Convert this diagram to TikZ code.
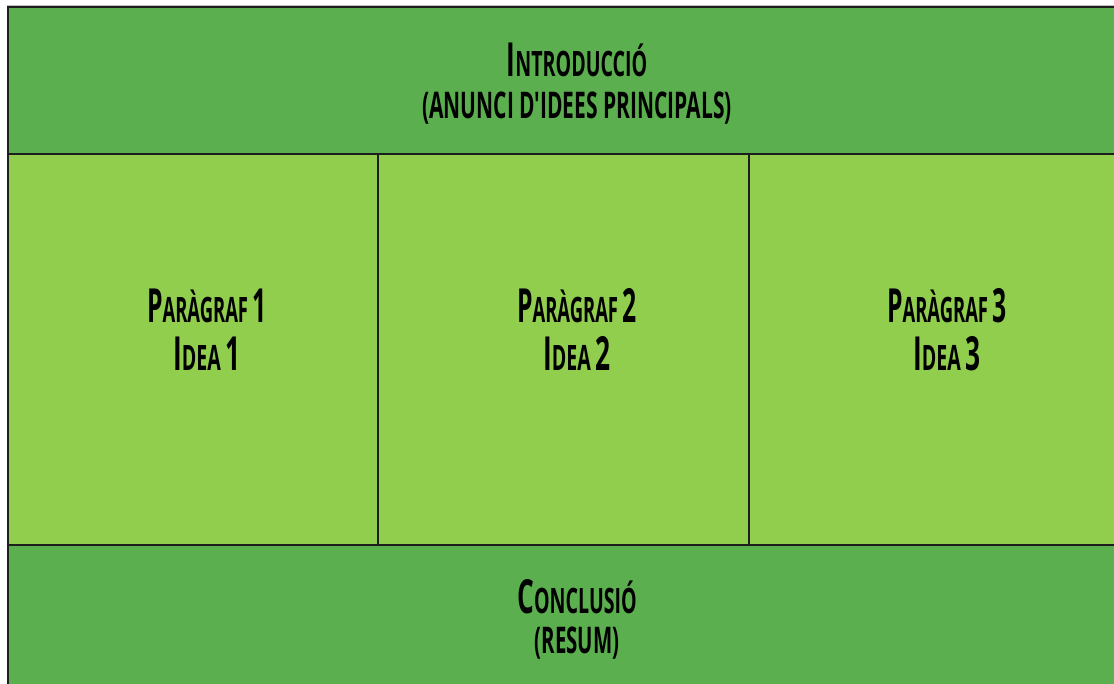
\documentclass[tikz,border=0pt]{standalone}
\usepackage{fontspec}
\usepackage{graphicx}
\newfontfamily\handfont[FakeStretch=0.56]{Open Sans}
\definecolor{darkgreen}{RGB}{91,175,79}
\definecolor{lightgreen}{RGB}{146,206,78}
\definecolor{edgegrey}{RGB}{30,30,30}
\newcommand\hbig[1]{{\fontsize{47}{41}\selectfont #1}}
\newcommand\hsmall[1]{{\fontsize{35}{41}\selectfont #1}}
\tikzset{
  band/.style={draw=edgegrey, line width=1.6pt, fill=darkgreen},
  cell/.style={draw=edgegrey, line width=1.3pt, fill=lightgreen},
  label/.style={anchor=base, inner sep=0pt, font=\handfont\bfseries, text=black}
}
\begin{document}
\begin{tikzpicture}[x=1pt,y=-1pt]
\useasboundingbox (0,0) rectangle (1114,684);
\fill[white] (0,0) rectangle (1114,684);
\clip (0,0) rectangle (1114,684);
% grey halo of outer edge
\draw[gray!50, line width=1pt] (7,700) -- (7,6) -- (1130,6);
% bands and cells
\path[band] (8,7) rectangle (1125,154);
\path[cell] (8,154) rectangle (378,545);
\path[cell] (378,154) rectangle (749,545);
\path[cell] (749,154) rectangle (1125,545);
\path[band] (8,545) rectangle (1125,700);
% texts
\node[label] (intro1) at (577,77) {\hbig{I}\hsmall{NTRODUCCIÓ}};
\node[label] (intro2) at (577,119) {\scalebox{1.07}[1.05]{\hsmall{(ANUNCI D'IDEES PRINCIPALS)}}};
\node[label] (p1a) at (207,323) {\scalebox{0.94}[1]{\hbig{P}\hsmall{ARÀGRAF }\hbig{1}}};
\node[label] (p1b) at (207,371) {\hbig{I}\hsmall{DEA }\hbig{1}};
\node[label] (p2a) at (577,323) {\scalebox{0.94}[1]{\hbig{P}\hsmall{ARÀGRAF }\hbig{2}}};
\node[label] (p2b) at (577,371) {\hbig{I}\hsmall{DEA }\hbig{2}};
\node[label] (p3a) at (947,323) {\scalebox{0.94}[1]{\hbig{P}\hsmall{ARÀGRAF }\hbig{3}}};
\node[label] (p3b) at (947,371) {\hbig{I}\hsmall{DEA }\hbig{3}};
\node[label] (c1) at (577,613) {\hbig{C}\hsmall{ONCLUSIÓ}};
\node[label] (c2) at (577,653) {\scalebox{1.04}[1.05]{\hsmall{(RESUM)}}};
\end{tikzpicture}
\end{document}
